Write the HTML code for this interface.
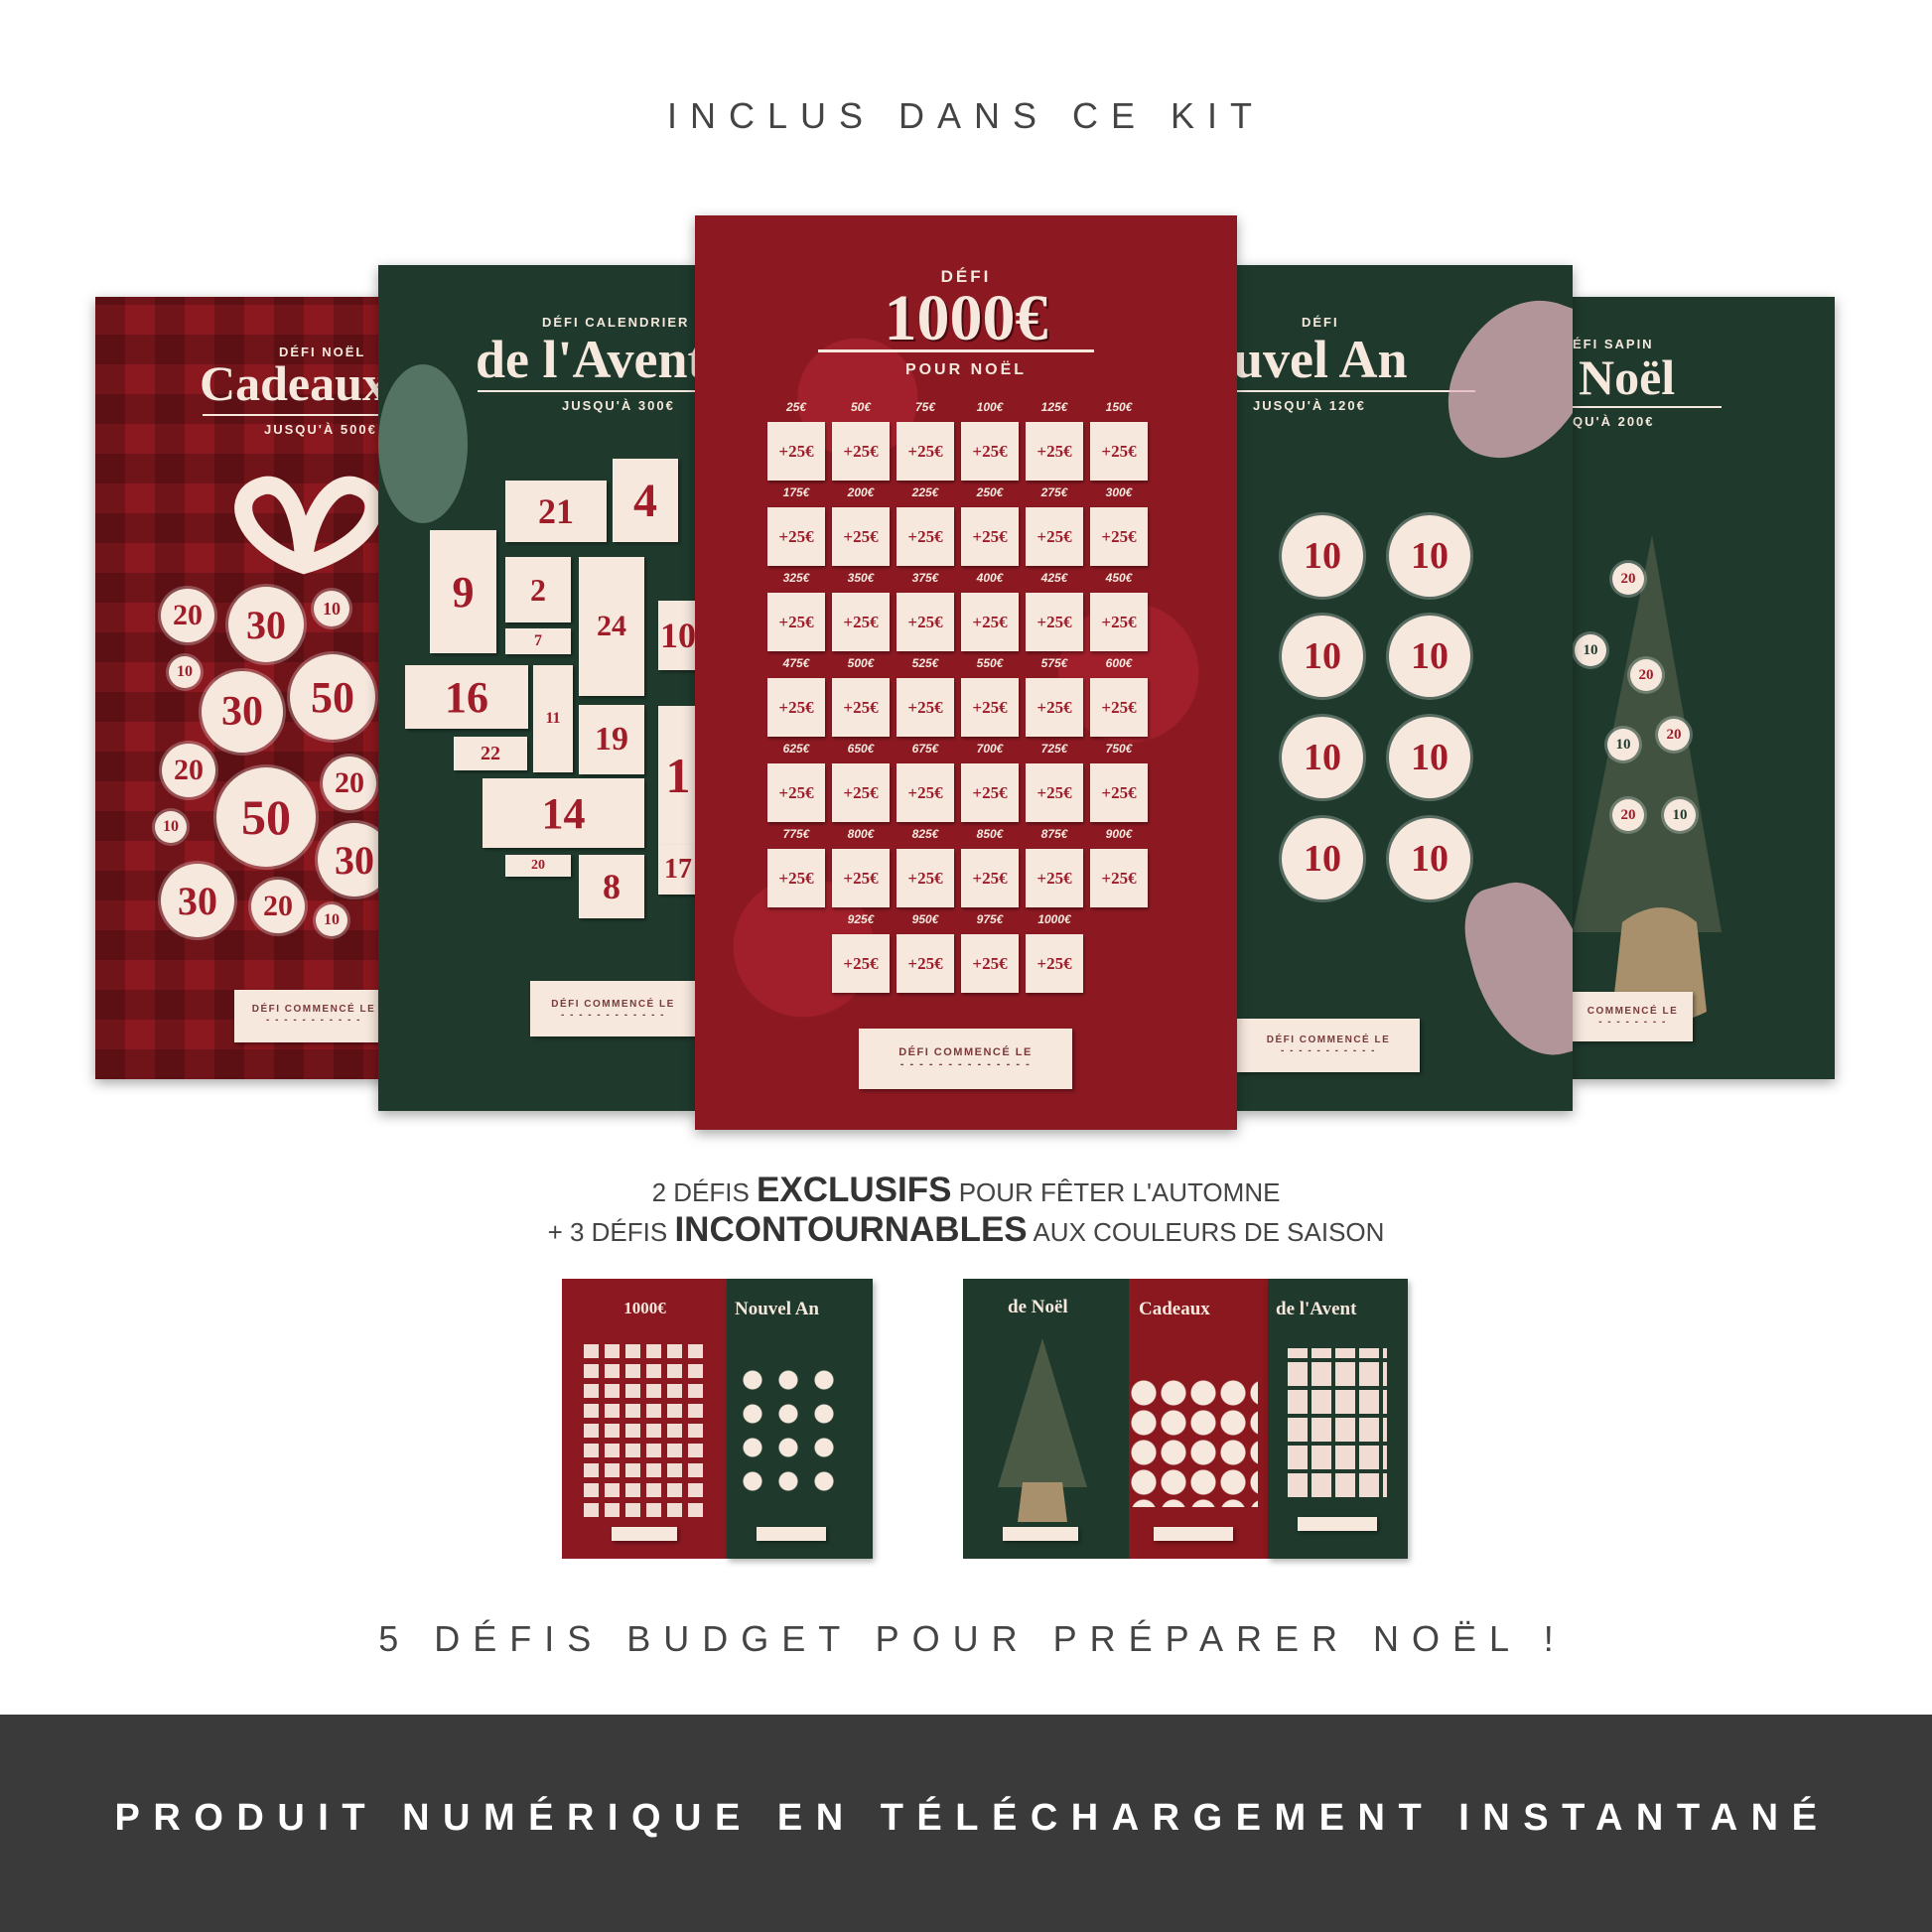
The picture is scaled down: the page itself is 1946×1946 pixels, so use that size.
<!DOCTYPE html>
<html><head><meta charset="utf-8"><style>
*{margin:0;padding:0;box-sizing:border-box}
body{width:1946px;height:1946px;background:#fff;position:relative;overflow:hidden;font-family:"Liberation Sans",sans-serif}
.a{position:absolute}
.card{position:absolute;overflow:hidden;box-shadow:0 4px 12px rgba(0,0,0,.35)}
.cr{background:#f6e8dd;color:#9e1c2a;font-family:"Liberation Serif",serif;font-weight:bold;display:flex;align-items:center;justify-content:center;position:absolute}
.circ{position:absolute;border-radius:50%;background:#f6e8dd;color:#a01c28;font-family:"Liberation Serif",serif;font-weight:bold;display:flex;align-items:center;justify-content:center;box-shadow:0 0 0 3px rgba(255,255,255,.25)}
.rect{position:absolute;background:#f6e8dd;color:#a01c28;font-family:"Liberation Serif",serif;font-weight:bold;display:flex;align-items:center;justify-content:center;box-shadow:2px 2px 3px rgba(0,0,0,.4)}
.ttl{position:absolute;color:#f6e8dd;font-family:"Liberation Serif",serif;font-weight:bold;white-space:nowrap}
.sm{position:absolute;color:#f6e8dd;font-size:13px;letter-spacing:2px;font-weight:bold;white-space:nowrap}
.bx{position:absolute;background:#f6e8dd;color:#7a3a3a;font-size:10px;letter-spacing:1.5px;font-weight:bold;text-align:center;padding-top:14px;box-shadow:2px 2px 4px rgba(0,0,0,.4)}
</style></head><body>

<div class="a" style="left:0;top:96px;width:1946px;text-align:center;font-size:36px;letter-spacing:13px;color:#444">INCLUS DANS CE KIT</div>

<!-- card 1 plaid -->
<div class="card" style="left:96px;top:299px;width:300px;height:788px;background:#8a181e;background-image:repeating-linear-gradient(90deg,rgba(0,0,0,.18) 0 30px,transparent 30px 60px),repeating-linear-gradient(0deg,rgba(0,0,0,.18) 0 30px,transparent 30px 60px)">
 <div class="sm" style="left:185px;top:48px">DÉFI NOËL</div>
 <div class="ttl" style="left:105px;top:58px;font-size:50px">Cadeaux</div>
 <div class="a" style="left:108px;top:118px;width:200px;height:2px;background:#f6e8dd"></div>
 <div class="sm" style="left:170px;top:126px">JUSQU'À 500€</div>
 <svg class="a" style="left:110px;top:160px" width="200" height="120"><path d="M100 110 C40 90 20 40 60 30 C90 25 100 80 100 110 C100 80 120 25 150 30 C190 40 170 90 100 110Z" fill="none" stroke="#f6e8dd" stroke-width="18"/></svg>
 <div class="circ" style="left:66px;top:294px;width:54px;height:54px;font-size:30px">20</div>
 <div class="circ" style="left:134px;top:292px;width:76px;height:76px;font-size:40px">30</div>
 <div class="circ" style="left:107px;top:377px;width:82px;height:82px;font-size:42px">30</div>
 <div class="circ" style="left:196px;top:360px;width:86px;height:86px;font-size:44px">50</div>
 <div class="circ" style="left:67px;top:450px;width:54px;height:54px;font-size:30px">20</div>
 <div class="circ" style="left:122px;top:474px;width:100px;height:100px;font-size:50px">50</div>
 <div class="circ" style="left:229px;top:463px;width:54px;height:54px;font-size:30px">20</div>
 <div class="circ" style="left:66px;top:571px;width:74px;height:74px;font-size:40px">30</div>
 <div class="circ" style="left:157px;top:587px;width:54px;height:54px;font-size:30px">20</div>
 <div class="circ" style="left:224px;top:530px;width:74px;height:74px;font-size:40px">30</div>
 <div class="circ" style="left:220px;top:296px;width:36px;height:36px;font-size:18px">10</div>
 <div class="circ" style="left:74px;top:362px;width:32px;height:32px;font-size:16px">10</div>
 <div class="circ" style="left:60px;top:518px;width:32px;height:32px;font-size:16px">10</div>
 <div class="circ" style="left:222px;top:612px;width:32px;height:32px;font-size:16px">10</div>
 <div class="bx" style="left:140px;top:698px;width:160px;height:53px">DÉFI COMMENCÉ LE<br>- - - - - - - - - - -</div>
</div>

<!-- card 5 -->
<div class="card" style="left:1584px;top:299px;width:264px;height:788px;background:#1f3a2d">
 <div class="sm" style="left:0;top:40px">ÉFI SAPIN</div>
 <div class="ttl" style="left:6px;top:52px;font-size:50px">Noël</div>
 <div class="a" style="left:0;top:110px;width:150px;height:2px;background:#f6e8dd"></div>
 <div class="sm" style="left:0;top:118px">QU'À 200€</div>
 <svg class="a" style="left:0;top:200px" width="264" height="560"><path d="M80 40 L150 440 L0 440Z" fill="#4a5a45" opacity=".8"/><path d="M50 430 Q90 400 125 430 L135 520 Q85 545 40 520Z" fill="#a8906c"/></svg>
 <div class="circ" style="left:40px;top:268px;width:32px;height:32px;font-size:15px">20</div>
 <div class="circ" style="left:2px;top:340px;width:32px;height:32px;font-size:15px;color:#1f3a2d">10</div>
 <div class="circ" style="left:58px;top:365px;width:32px;height:32px;font-size:15px">20</div>
 <div class="circ" style="left:35px;top:435px;width:32px;height:32px;font-size:15px;color:#1f3a2d">10</div>
 <div class="circ" style="left:86px;top:425px;width:32px;height:32px;font-size:15px">20</div>
 <div class="circ" style="left:40px;top:506px;width:32px;height:32px;font-size:15px">20</div>
 <div class="circ" style="left:92px;top:506px;width:32px;height:32px;font-size:15px;color:#1f3a2d">10</div>
 <div class="bx" style="left:0;top:700px;width:121px;height:50px">COMMENCÉ LE<br>- - - - - - - -</div>
</div>

<!-- card 2 -->
<div class="card" style="left:381px;top:267px;width:320px;height:852px;background:#1f3a2d">
 <div class="sm" style="left:165px;top:50px">DÉFI CALENDRIER</div>
 <div class="ttl" style="left:98px;top:64px;font-size:54px">de l'Avent</div>
 <div class="a" style="left:100px;top:126px;width:240px;height:2px;background:#f6e8dd"></div>
 <div class="sm" style="left:185px;top:134px">JUSQU'À 300€</div>
 <div class="a" style="left:0;top:100px;width:90px;height:160px;background:#7a9a85;border-radius:50%;opacity:.6"></div>
 <div class="rect" style="left:128px;top:217px;width:102px;height:62px;font-size:36px">21</div>
 <div class="rect" style="left:236px;top:195px;width:66px;height:84px;font-size:48px">4</div>
 <div class="rect" style="left:52px;top:267px;width:67px;height:124px;font-size:44px">9</div>
 <div class="rect" style="left:128px;top:294px;width:66px;height:66px;font-size:32px">2</div>
 <div class="rect" style="left:202px;top:294px;width:66px;height:140px;font-size:30px">24</div>
 <div class="rect" style="left:128px;top:366px;width:66px;height:26px;font-size:16px">7</div>
 <div class="rect" style="left:282px;top:338px;width:40px;height:70px;font-size:36px">10</div>
 <div class="rect" style="left:27px;top:403px;width:124px;height:64px;font-size:44px">16</div>
 <div class="rect" style="left:156px;top:403px;width:40px;height:108px;font-size:16px">11</div>
 <div class="rect" style="left:76px;top:475px;width:74px;height:34px;font-size:20px">22</div>
 <div class="rect" style="left:202px;top:443px;width:66px;height:70px;font-size:34px">19</div>
 <div class="rect" style="left:282px;top:444px;width:40px;height:140px;font-size:50px">1</div>
 <div class="rect" style="left:105px;top:517px;width:163px;height:70px;font-size:44px">14</div>
 <div class="rect" style="left:128px;top:594px;width:66px;height:22px;font-size:14px">20</div>
 <div class="rect" style="left:202px;top:594px;width:66px;height:64px;font-size:36px">8</div>
 <div class="rect" style="left:282px;top:584px;width:40px;height:50px;font-size:28px">17</div>
 <div class="bx" style="left:153px;top:721px;width:167px;height:56px;padding-top:18px">DÉFI COMMENCÉ LE<br>- - - - - - - - - - - -</div>
</div>

<!-- card 4 -->
<div class="card" style="left:1246px;top:267px;width:338px;height:852px;background:#1f3a2d">
 <div class="sm" style="left:65px;top:50px">DÉFI</div>
 <div class="ttl" style="left:-70px;top:64px;font-size:54px">Nouvel An</div>
 <div class="a" style="left:0;top:126px;width:240px;height:2px;background:#f6e8dd"></div>
 <div class="sm" style="left:16px;top:134px">JUSQU'À 120€</div>
 <div class="a" style="left:220px;top:30px;width:130px;height:170px;background:#e4b4bd;border-radius:60% 10% 60% 40%;opacity:.75;transform:rotate(20deg)"></div>
 <div class="a" style="left:240px;top:620px;width:110px;height:180px;background:#e4b4bd;border-radius:30% 50% 10% 60%;opacity:.75;transform:rotate(-15deg)"></div>
 <div class="circ" style="left:45px;top:252px;width:82px;height:82px;font-size:38px">10</div>
 <div class="circ" style="left:153px;top:252px;width:82px;height:82px;font-size:38px">10</div>
 <div class="circ" style="left:45px;top:353px;width:82px;height:82px;font-size:38px">10</div>
 <div class="circ" style="left:153px;top:353px;width:82px;height:82px;font-size:38px">10</div>
 <div class="circ" style="left:45px;top:455px;width:82px;height:82px;font-size:38px">10</div>
 <div class="circ" style="left:153px;top:455px;width:82px;height:82px;font-size:38px">10</div>
 <div class="circ" style="left:45px;top:557px;width:82px;height:82px;font-size:38px">10</div>
 <div class="circ" style="left:153px;top:557px;width:82px;height:82px;font-size:38px">10</div>
 <div class="bx" style="left:0;top:759px;width:184px;height:54px;padding-top:16px">DÉFI COMMENCÉ LE<br>- - - - - - - - - - -</div>
</div>

<!-- center card -->
<div class="card" id="c" style="left:700px;top:217px;width:546px;height:921px;background:#8c1922;background-image:radial-gradient(circle at 30% 20%,rgba(190,40,55,.45) 0 60px,transparent 61px),radial-gradient(circle at 80% 50%,rgba(190,40,55,.4) 0 70px,transparent 71px),radial-gradient(circle at 20% 80%,rgba(190,40,55,.4) 0 70px,transparent 71px)">
 <div class="a" style="left:0;top:52px;width:546px;text-align:center;color:#f6e8dd;font-size:17px;letter-spacing:3px;font-weight:bold">DÉFI</div>
 <div class="ttl" style="left:0;top:66px;width:546px;text-align:center;font-size:66px;text-shadow:2px 2px 0 #4a0a10">1000€</div>
 <div class="a" style="left:124px;top:135px;width:278px;height:3px;background:#f6e8dd"></div>
 <div class="a" style="left:0;top:147px;width:546px;text-align:center;color:#f6e8dd;font-size:16px;letter-spacing:3px;font-weight:bold">POUR NOËL</div>
</div>

<!-- middle text -->
<div class="a" style="left:0;top:1180px;width:1946px;text-align:center;color:#444;font-size:26px;line-height:37px">2 DÉFIS <b style="font-size:35px;color:#333">EXCLUSIFS</b> POUR FÊTER L'AUTOMNE<br>+ 3 DÉFIS <b style="font-size:35px;color:#333">INCONTOURNABLES</b> AUX COULEURS DE SAISON</div>

<!-- small mockups -->
<div class="card" style="left:566px;top:1288px;width:167px;height:282px;background:#8c1922;box-shadow:none">
 <div class="ttl" style="left:0;top:20px;width:167px;text-align:center;font-size:17px">1000€</div>
 <div class="a" style="left:22px;top:60px;width:124px;height:180px;background:repeating-linear-gradient(90deg,#f0dcd2 0 15px,transparent 15px 21px);-webkit-mask:repeating-linear-gradient(0deg,#000 0 14px,transparent 14px 20px)"></div>
 <div class="bx" style="left:50px;top:250px;width:66px;height:14px;padding:0"></div>
</div>
<div class="card" style="left:732px;top:1288px;width:147px;height:282px;background:#1f3a2d;box-shadow:2px 3px 6px rgba(0,0,0,.3)">
 <div class="ttl" style="left:8px;top:20px;font-size:19px">Nouvel An</div>
 <div class="a" style="left:8px;top:85px;width:110px;height:140px;background:radial-gradient(circle,#f6e8dd 0 9px,transparent 10px) 0 0/36px 34px"></div>
 <div class="bx" style="left:30px;top:250px;width:70px;height:14px;padding:0"></div>
</div>
<div class="card" style="left:970px;top:1288px;width:167px;height:282px;background:#1f3a2d;box-shadow:none">
 <div class="ttl" style="left:45px;top:18px;font-size:19px">de Noël</div>
 <svg class="a" style="left:30px;top:60px" width="100" height="200"><path d="M50 0 L95 150 L5 150Z" fill="#4a5a45"/><path d="M30 145 L70 145 L75 185 L25 185Z" fill="#a8906c"/></svg>
 <div class="bx" style="left:40px;top:250px;width:76px;height:14px;padding:0"></div>
</div>
<div class="card" style="left:1137px;top:1288px;width:140px;height:282px;background:#8a181e;box-shadow:none">
 <div class="ttl" style="left:10px;top:20px;font-size:19px">Cadeaux</div>
 <div class="a" style="left:0;top:100px;width:130px;height:130px;background:radial-gradient(circle,#f6e8dd 0 12px,transparent 13px) 0 0/30px 30px"></div>
 <div class="bx" style="left:25px;top:250px;width:80px;height:14px;padding:0"></div>
</div>
<div class="card" style="left:1277px;top:1288px;width:141px;height:282px;background:#1f3a2d;box-shadow:2px 3px 6px rgba(0,0,0,.3)">
 <div class="ttl" style="left:8px;top:20px;font-size:19px">de l'Avent</div>
 <div class="a" style="left:20px;top:70px;width:100px;height:150px;background:repeating-linear-gradient(90deg,#f0dcd2 0 20px,transparent 20px 24px);-webkit-mask:repeating-linear-gradient(0deg,#000 0 24px,transparent 24px 28px)"></div>
 <div class="bx" style="left:30px;top:240px;width:80px;height:14px;padding:0"></div>
</div>

<div class="a" style="left:0;top:1630px;width:1946px;text-align:center;font-size:36px;letter-spacing:13px;color:#444;padding-left:13px">5 DÉFIS BUDGET POUR PRÉPARER NOËL !</div>

<div class="a" style="left:0;top:1727px;width:1946px;height:219px;background:#3b3a3b"></div>
<div class="a" style="left:0;top:1810px;width:1946px;text-align:center;font-size:38px;letter-spacing:13.5px;color:#fff;font-weight:bold;padding-left:13px">PRODUIT NUMÉRIQUE EN TÉLÉCHARGEMENT INSTANTANÉ</div>

<script>
var c=document.getElementById('c'),h='',n=0;
for(var r=0;r<7;r++){var cols=r<6?6:4,x0=r<6?73:138;
 for(var k=0;k<cols;k++){n++;var x=x0+k*65,y=195+r*86;
  h+='<div class="a" style="left:'+x+'px;top:'+(y-9)+'px;width:58px;text-align:center;color:#f6e8dd;font-size:12px;font-style:italic;font-weight:bold">'+(n*25)+'€</div>';
  h+='<div class="cr" style="left:'+x+'px;top:'+(y+13)+'px;width:58px;height:59px;font-size:17px;box-shadow:1px 2px 3px rgba(0,0,0,.4)">+25€</div>';}}
h+='<div class="bx" style="left:165px;top:819px;width:215px;height:61px;padding-top:18px;font-size:11px">DÉFI COMMENCÉ LE<br>- - - - - - - - - - - - - -</div>';
c.insertAdjacentHTML('beforeend',h);
</script>
</body></html>
